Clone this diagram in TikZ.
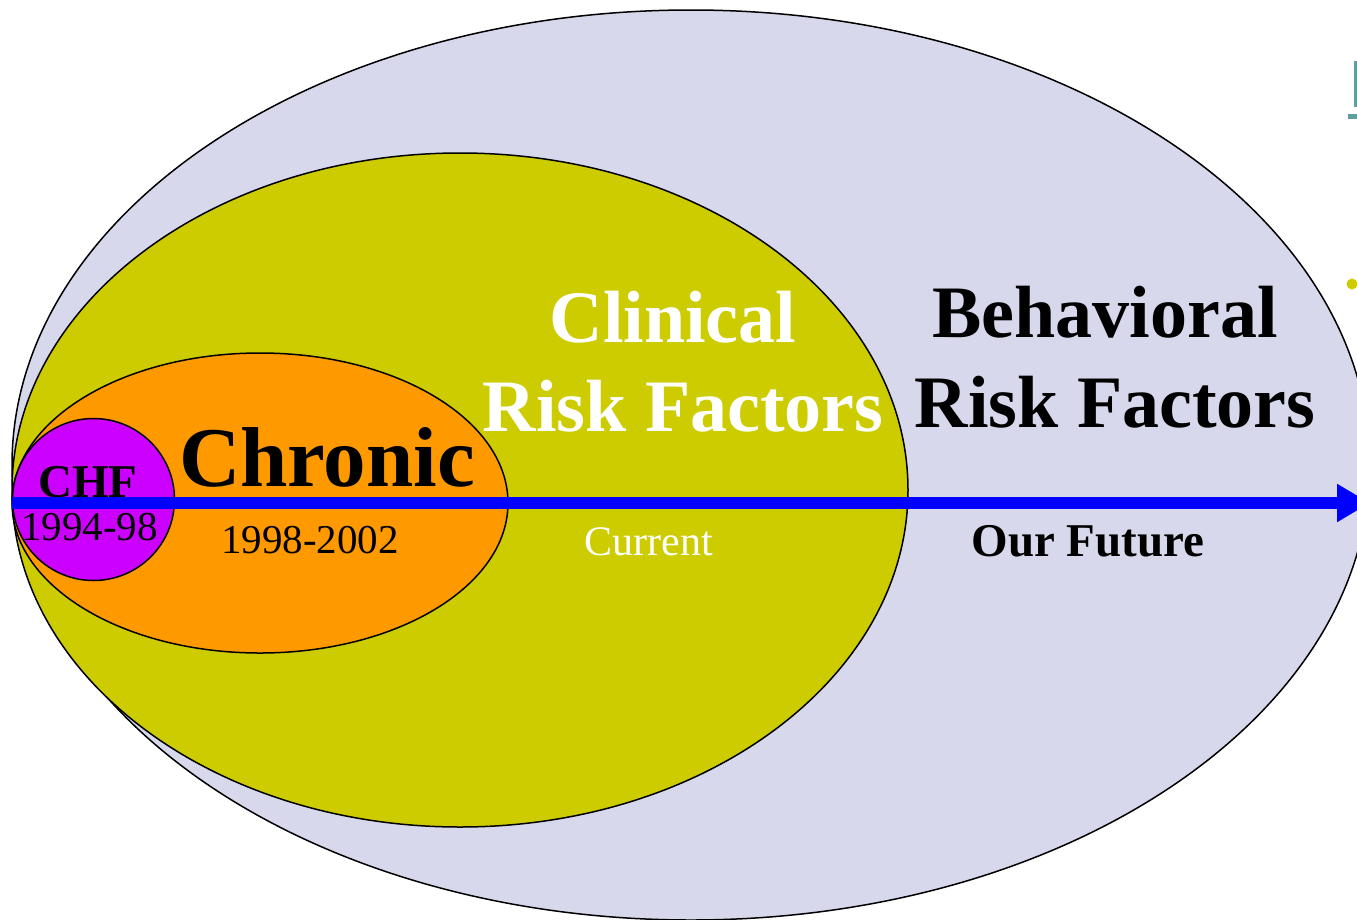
\documentclass[tikz,border=0pt]{standalone}
\usepackage{fontspec}
\setmainfont{Liberation Serif}
\usetikzlibrary{arrows.meta}
\definecolor{outerc}{RGB}{216,216,236}
\definecolor{yelc}{RGB}{204,204,0}
\definecolor{orac}{RGB}{255,153,0}
\definecolor{purc}{RGB}{204,0,255}
\definecolor{tealc}{RGB}{95,158,160}
\tikzset{
  ring/.style={draw=black, line width=1.5pt},
  bigtxt/.style={anchor=base, inner sep=0pt, font=\fontsize{74}{74}\selectfont\bfseries},
  yeartxt/.style={anchor=base, inner sep=0pt, font=\fontsize{41}{41}\selectfont},
  timeline/.style={draw=blue, line width=11.5pt, -{Triangle[length=33pt,width=36pt]}}
}
\begin{document}
\begin{tikzpicture}[x=1pt,y=-1pt]
\useasboundingbox (0,0) rectangle (1357,919);
\clip (0,0) rectangle (1357,919);
\fill[white] (0,0) rectangle (1357,919);
% ellipses
\path[ring, fill=outerc] (691,465) ellipse [x radius=679, y radius=455];
\path[ring, fill=yelc] (460,490) ellipse [x radius=448, y radius=337];
\path[ring, fill=orac] (260,503) ellipse [x radius=248, y radius=150];
\path[ring, fill=purc] (93.5,499.5) circle [radius=81];
% fragments at right edge
\fill[tealc] (1354,61) rectangle (1357,107);
\fill[tealc] (1348,114) rectangle (1357,119);
\fill[yelc] (1352,284) circle [radius=5.5];
% texts
\node[bigtxt, text=white] (clin1) at (673,342) {Clinical};
\node[bigtxt, text=white] (clin2) at (683,431) {Risk Factors};
\node[bigtxt] (beh1) at (1105,337) {Behavioral};
\node[bigtxt] (beh2) at (1115,427) {Risk Factors};
\node[anchor=base, inner sep=0pt, font=\fontsize{85}{85}\selectfont\bfseries] (chron) at (327,486) {Chronic};
\node[anchor=base, inner sep=0pt, font=\fontsize{47}{47}\selectfont\bfseries] (chf) at (88,497) {CHF};
\node[yeartxt] (y1) at (89.5,540) {1994-98};
\node[yeartxt] (y2) at (310,553) {1998-2002};
\node[anchor=base, inner sep=0pt, text=white, font=\fontsize{42}{42}\selectfont] (cur) at (649,555) {Current};
\node[anchor=base, inner sep=0pt, font=\fontsize{47}{47}\selectfont\bfseries] (fut) at (1088,556) {Our Future};
% timeline arrow
\coordinate (as) at (12,503);
\coordinate (ae) at (1370,503);
\draw[timeline] (as) -- (ae);
\end{tikzpicture}
\end{document}
